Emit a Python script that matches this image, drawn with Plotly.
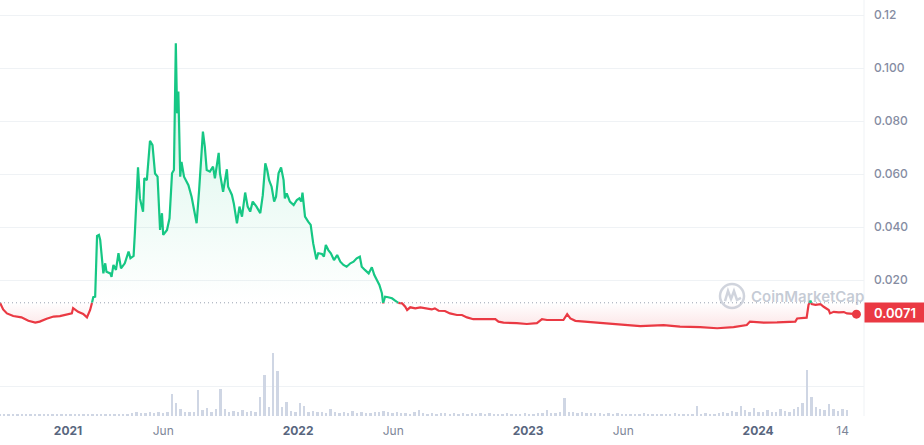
import plotly.graph_objects as go
import pandas as pd

# ---------------- data ----------------
price_dates = [
    "2020-09-15", "2020-09-20", "2020-09-26", "2020-10-06", "2020-10-19", "2020-10-30", "2020-11-10", "2020-11-17",
    "2020-11-28", "2020-12-09", "2020-12-19", "2020-12-30", "2021-01-07", "2021-01-09", "2021-01-17", "2021-01-25",
    "2021-01-31", "2021-02-05", "2021-02-08", "2021-02-10", "2021-02-13", "2021-02-16", "2021-02-19", "2021-02-21",
    "2021-02-23", "2021-02-26", "2021-03-01", "2021-03-03", "2021-03-09", "2021-03-11", "2021-03-14", "2021-03-18",
    "2021-03-22", "2021-03-26", "2021-04-01", "2021-04-07", "2021-04-10", "2021-04-15", "2021-04-17", "2021-04-22",
    "2021-04-25", "2021-04-30", "2021-05-02", "2021-05-06", "2021-05-11", "2021-05-15", "2021-05-19", "2021-05-23",
    "2021-05-27", "2021-05-30", "2021-06-01", "2021-06-07", "2021-06-11", "2021-06-15", "2021-06-18", "2021-06-21",
    "2021-06-23", "2021-06-25", "2021-06-28", "2021-06-30", "2021-07-04", "2021-07-11", "2021-07-16", "2021-07-24",
    "2021-07-28", "2021-08-03", "2021-08-06", "2021-08-09", "2021-08-14", "2021-08-19", "2021-08-22", "2021-08-28",
    "2021-08-30", "2021-09-04", "2021-09-10", "2021-09-12", "2021-09-18", "2021-09-21", "2021-09-26", "2021-09-30",
    "2021-10-04", "2021-10-09", "2021-10-13", "2021-10-17", "2021-10-21", "2021-10-27", "2021-11-02", "2021-11-06",
    "2021-11-10", "2021-11-13", "2021-11-16", "2021-11-20", "2021-11-24", "2021-11-27", "2021-12-01", "2021-12-05",
    "2021-12-09", "2021-12-11", "2021-12-14", "2021-12-19", "2021-12-25", "2021-12-30", "2022-01-03", "2022-01-06",
    "2022-01-08", "2022-01-12", "2022-01-17", "2022-01-21", "2022-01-25", "2022-01-30", "2022-02-02", "2022-02-08",
    "2022-02-11", "2022-02-14", "2022-02-18", "2022-02-22", "2022-02-27", "2022-03-04", "2022-03-09", "2022-03-14",
    "2022-03-19", "2022-03-25", "2022-03-30", "2022-04-04", "2022-04-09", "2022-04-12", "2022-04-17", "2022-04-23",
    "2022-04-28", "2022-05-02", "2022-05-06", "2022-05-10", "2022-05-14", "2022-05-16", "2022-05-19", "2022-05-24",
    "2022-05-30", "2022-06-04", "2022-06-09", "2022-06-15", "2022-06-20", "2022-06-23", "2022-06-28", "2022-07-06",
    "2022-07-14", "2022-07-24", "2022-08-01", "2022-08-06", "2022-08-12", "2022-08-22", "2022-08-30", "2022-09-10",
    "2022-09-18", "2022-09-26", "2022-10-06", "2022-10-22", "2022-11-10", "2022-11-15", "2022-11-23", "2022-12-14",
    "2022-12-30", "2023-01-15", "2023-01-23", "2023-01-31", "2023-02-16", "2023-02-26", "2023-03-04", "2023-03-09",
    "2023-03-17", "2023-04-04", "2023-04-25", "2023-05-16", "2023-06-12", "2023-06-28", "2023-08-04", "2023-08-30",
    "2023-10-01", "2023-10-28", "2023-11-23", "2023-12-14", "2023-12-19", "2024-01-10", "2024-01-31", "2024-02-29",
    "2024-03-03", "2024-03-18", "2024-03-21", "2024-03-24", "2024-03-26", "2024-04-01", "2024-04-09", "2024-04-14",
    "2024-04-22", "2024-04-24", "2024-04-30", "2024-05-08", "2024-05-16", "2024-05-21", "2024-05-29", "2024-06-05",
]
price_values = [
    0.0114, 0.0089, 0.0074, 0.0064, 0.0059, 0.0046, 0.0039, 0.0043,
    0.0054, 0.0062, 0.0064, 0.0069, 0.0074, 0.0094, 0.0080, 0.0072,
    0.0059, 0.0087, 0.0114, 0.0135, 0.0137, 0.0366, 0.0370, 0.0351,
    0.0301, 0.0225, 0.0263, 0.0231, 0.0225, 0.0212, 0.0257, 0.0238,
    0.0301, 0.0244, 0.0263, 0.0307, 0.0282, 0.0291, 0.0377, 0.0625,
    0.0508, 0.0458, 0.0584, 0.0577, 0.0725, 0.0709, 0.0602, 0.0590,
    0.0389, 0.0452, 0.0370, 0.0389, 0.0433, 0.0603, 0.0615, 0.1093,
    0.0829, 0.0911, 0.0590, 0.0646, 0.0590, 0.0558, 0.0514, 0.0414,
    0.0540, 0.0760, 0.0703, 0.0615, 0.0609, 0.0628, 0.0584, 0.0680,
    0.0603, 0.0533, 0.0618, 0.0552, 0.0521, 0.0489, 0.0414, 0.0477,
    0.0439, 0.0530, 0.0477, 0.0458, 0.0496, 0.0477, 0.0452, 0.0520,
    0.0640, 0.0615, 0.0577, 0.0552, 0.0496, 0.0514, 0.0603, 0.0625,
    0.0577, 0.0508, 0.0527, 0.0496, 0.0483, 0.0502, 0.0508, 0.0496,
    0.0530, 0.0439, 0.0420, 0.0408, 0.0338, 0.0278, 0.0301, 0.0298,
    0.0288, 0.0332, 0.0313, 0.0301, 0.0275, 0.0294, 0.0269, 0.0257,
    0.0250, 0.0263, 0.0269, 0.0282, 0.0288, 0.0250, 0.0238, 0.0225,
    0.0248, 0.0219, 0.0200, 0.0181, 0.0150, 0.0112, 0.0137, 0.0135,
    0.0131, 0.0122, 0.0114, 0.0112, 0.0099, 0.0087, 0.0097, 0.0093,
    0.0097, 0.0093, 0.0089, 0.0093, 0.0084, 0.0083, 0.0074, 0.0068,
    0.0068, 0.0059, 0.0052, 0.0052, 0.0052, 0.0043, 0.0039, 0.0037,
    0.0034, 0.0037, 0.0052, 0.0049, 0.0049, 0.0049, 0.0071, 0.0055,
    0.0046, 0.0043, 0.0039, 0.0034, 0.0030, 0.0026, 0.0030, 0.0024,
    0.0022, 0.0018, 0.0022, 0.0030, 0.0043, 0.0039, 0.0040, 0.0043,
    0.0055, 0.0058, 0.0106, 0.0122, 0.0109, 0.0106, 0.0109, 0.0099,
    0.0087, 0.0074, 0.0080, 0.0078, 0.0079, 0.0074, 0.0071, 0.0071,
]
current_price_label = "0.0071"

volume_start = "2020-09-15"   # weekly volume bars (relative units)
volume_values = [
    0.07, 0.06, 0.06, 0.07, 0.05, 0.06, 0.06, 0.05, 0.06, 0.07,
    0.06, 0.05, 0.06, 0.06, 0.07, 0.06, 0.05, 0.06, 0.06, 0.07,
    0.07, 0.08, 0.07, 0.06, 0.07, 0.08, 0.07, 0.06, 0.08, 0.07,
    0.10, 0.12, 0.09, 0.11, 0.13, 0.10, 0.12, 0.09, 0.14, 0.75,
    0.45, 0.25, 0.15, 0.12, 0.14, 0.87, 0.20, 0.28, 0.15, 0.22,
    0.90, 0.25, 0.15, 0.18, 0.12, 0.20, 0.14, 0.16, 0.13, 0.63,
    1.37, 0.30, 2.10, 1.50, 0.30, 0.47, 0.18, 0.15, 0.43, 0.33,
    0.15, 0.18, 0.12, 0.14, 0.10, 0.22, 0.12, 0.10, 0.13, 0.09,
    0.16, 0.10, 0.12, 0.09, 0.10, 0.14, 0.12, 0.18, 0.12, 0.10,
    0.13, 0.09, 0.10, 0.08, 0.12, 0.20, 0.09, 0.08, 0.10, 0.08,
    0.09, 0.10, 0.08, 0.09, 0.07, 0.10, 0.08, 0.09, 0.07, 0.10,
    0.08, 0.09, 0.07, 0.08, 0.07, 0.09, 0.08, 0.07, 0.08, 0.09,
    0.08, 0.07, 0.10, 0.09, 0.20, 0.10, 0.09, 0.12, 0.60, 0.15,
    0.12, 0.10, 0.12, 0.10, 0.09, 0.11, 0.09, 0.08, 0.10, 0.08,
    0.09, 0.07, 0.08, 0.07, 0.08, 0.07, 0.09, 0.07, 0.08, 0.07,
    0.08, 0.07, 0.08, 0.09, 0.07, 0.08, 0.07, 0.08, 0.33, 0.08,
    0.09, 0.07, 0.08, 0.10, 0.12, 0.09, 0.18, 0.12, 0.33, 0.20,
    0.14, 0.28, 0.15, 0.12, 0.20, 0.15, 0.12, 0.25, 0.18, 0.14,
    0.22, 0.30, 0.45, 1.53, 0.62, 0.30, 0.25, 0.20, 0.40, 0.22,
    0.18, 0.25, 0.20,
]

x_tick_dates = ["2021-01-01", "2021-06-01", "2022-01-01", "2022-06-01",
                "2023-01-01", "2023-06-01", "2024-01-01", "2024-05-14"]
x_tick_labels = ["2021", "Jun", "2022", "Jun", "2023", "Jun", "2024", "14"]
y_tick_values = [0, 0.02, 0.04, 0.06, 0.08, 0.10, 0.12]
y_tick_labels = ["", "0.020", "0.040", "0.060", "0.080", "0.100", "0.12"]

# ---------------- styling ----------------
GREEN = "#16c784"
RED = "#ea3943"
GRID = "#eff2f5"
FONT = "Inter"

# ---------------- split line at the baseline (first price) ----------------
base = price_values[0]
t = pd.to_datetime(price_dates)
xs, ys = [], []
for i in range(len(price_values)):
    if i > 0:
        p0, p1 = price_values[i - 1], price_values[i]
        if (p0 - base) * (p1 - base) < 0:
            f = (base - p0) / (p1 - p0)
            tc = t[i - 1] + (t[i] - t[i - 1]) * f
            xs.append(tc)
            ys.append(base)
    xs.append(t[i])
    ys.append(price_values[i])

green_y = [y if y >= base else None for y in ys]
red_y = [y if y <= base else None for y in ys]
hi_y = [max(y, base) for y in ys]
lo_y = [min(y, base) for y in ys]

vol_dates = pd.date_range(volume_start, periods=len(volume_values), freq="7D")

fig = go.Figure()

# volume
fig.add_trace(go.Bar(x=vol_dates, y=volume_values, yaxis="y2",
                     marker=dict(color="#cfd6e4", line=dict(width=0)),
                     width=3 * 86400000, hoverinfo="skip"))

# fills
fig.add_trace(go.Scatter(x=xs, y=[base] * len(xs), mode="lines",
                         line=dict(width=0), hoverinfo="skip"))
fig.add_trace(go.Scatter(x=xs, y=hi_y, mode="lines", line=dict(width=0),
                         fill="tonexty",
                         fillgradient=dict(type="vertical",
                                           colorscale=[[0, "rgba(22,199,132,0)"],
                                                       [1, "rgba(22,199,132,0.20)"]],
                                           start=base, stop=0.11),
                         hoverinfo="skip"))
fig.add_trace(go.Scatter(x=xs, y=[base] * len(xs), mode="lines",
                         line=dict(width=0), hoverinfo="skip"))
fig.add_trace(go.Scatter(x=xs, y=lo_y, mode="lines", line=dict(width=0),
                         fill="tonexty",
                         fillgradient=dict(type="vertical",
                                           colorscale=[[0, "rgba(234,57,67,0.16)"],
                                                       [1, "rgba(234,57,67,0)"]],
                                           start=0, stop=base),
                         hoverinfo="skip"))

# lines
fig.add_trace(go.Scatter(x=xs, y=red_y, mode="lines",
                         line=dict(color=RED, width=2.2), connectgaps=False,
                         hoverinfo="skip"))
fig.add_trace(go.Scatter(x=xs, y=green_y, mode="lines",
                         line=dict(color=GREEN, width=2.2), connectgaps=False,
                         hoverinfo="skip"))
# last point marker
fig.add_trace(go.Scatter(x=[t[-1]], y=[price_values[-1]], mode="markers",
                         marker=dict(color=RED, size=9), hoverinfo="skip"))


def px(xp):
    return xp / 864.0


def py(yp):
    return (416.0 - yp) / 416.0


# watermark geometry (pixels)
LX, LY = 732, 296     # logo centre
wave = [(LX - 7, LY + 5), (LX - 4, LY - 5), (LX - 1, LY + 3), (LX + 2, LY - 5),
        (LX + 5, LY + 4), (LX + 9, LY + 2)]
wave_path = "M " + " L ".join(f"{px(a):.4f},{py(b):.4f}" for a, b in wave)

shapes = [
    # baseline dotted line
    dict(type="line", xref="paper", x0=0, x1=1, yref="y", y0=base, y1=base,
         line=dict(color="#9aa2b1", width=1, dash="1px,3px"), layer="above"),
    # right border
    dict(type="line", xref="paper", x0=1, x1=1, yref="paper", y0=0, y1=1,
         line=dict(color=GRID, width=1), layer="below"),
    # watermark logo
    dict(type="circle", xref="paper", yref="paper", x0=px(LX - 12), x1=px(LX + 12),
         y0=py(LY + 12), y1=py(LY - 12), line=dict(color="rgba(150,160,180,0.45)", width=2.5),
         layer="above"),
    dict(type="path", xref="paper", yref="paper", path=wave_path,
         line=dict(color="rgba(150,160,180,0.45)", width=2.5), layer="above"),
]

annotations = [
    dict(text="CoinMarketCap", xref="paper", yref="paper", x=px(LX + 17), y=py(LY),
         xanchor="left", yanchor="middle", showarrow=False,
         font=dict(family=FONT, size=15, color="rgba(140,152,172,0.5)", weight=600)),
    dict(text=current_price_label, xref="paper", yref="y", x=1, y=price_values[-1],
         xanchor="left", yanchor="middle", yshift=2, showarrow=False,
         bgcolor=RED, borderpad=3, width=54, height=13, align="center",
         font=dict(family=FONT, size=13, color="white", weight=600)),
]

ticktext_x = [f"<b>{s}</b>" if s.isdigit() and len(s) == 4 else
              f"<span style='color:#7d8597'>{s}</span>" for s in x_tick_labels]

fig.update_layout(
    width=924, height=445,
    margin=dict(l=0, r=60, t=0, b=29),
    plot_bgcolor="white", paper_bgcolor="white",
    showlegend=False, bargap=0,
    xaxis=dict(range=["2020-09-15", "2024-06-17"], anchor="y2",
               tickvals=x_tick_dates, ticktext=ticktext_x,
               showgrid=False, zeroline=False, showline=False, ticks="",
               ticklabelstandoff=6,
               tickfont=dict(family=FONT, size=12, color="#58667e")),
    yaxis=dict(domain=[83 / 416, 1], range=[0, 333 / 2650], side="right",
               anchor="x",
               tickvals=y_tick_values, ticktext=y_tick_labels,
               gridcolor=GRID, gridwidth=1, zeroline=False, showline=False,
               ticks="", ticklabelstandoff=9,
               tickfont=dict(family=FONT, size=12, color="#858ca2", weight=500)),
    yaxis2=dict(domain=[0, 75 / 416], range=[0, 2.5], side="right", anchor="x",
                tickvals=[1], showticklabels=False, gridcolor=GRID,
                zeroline=False, showline=False),
    shapes=shapes, annotations=annotations,
)

fig.write_html("out.html", config={"displayModeBar": False})
